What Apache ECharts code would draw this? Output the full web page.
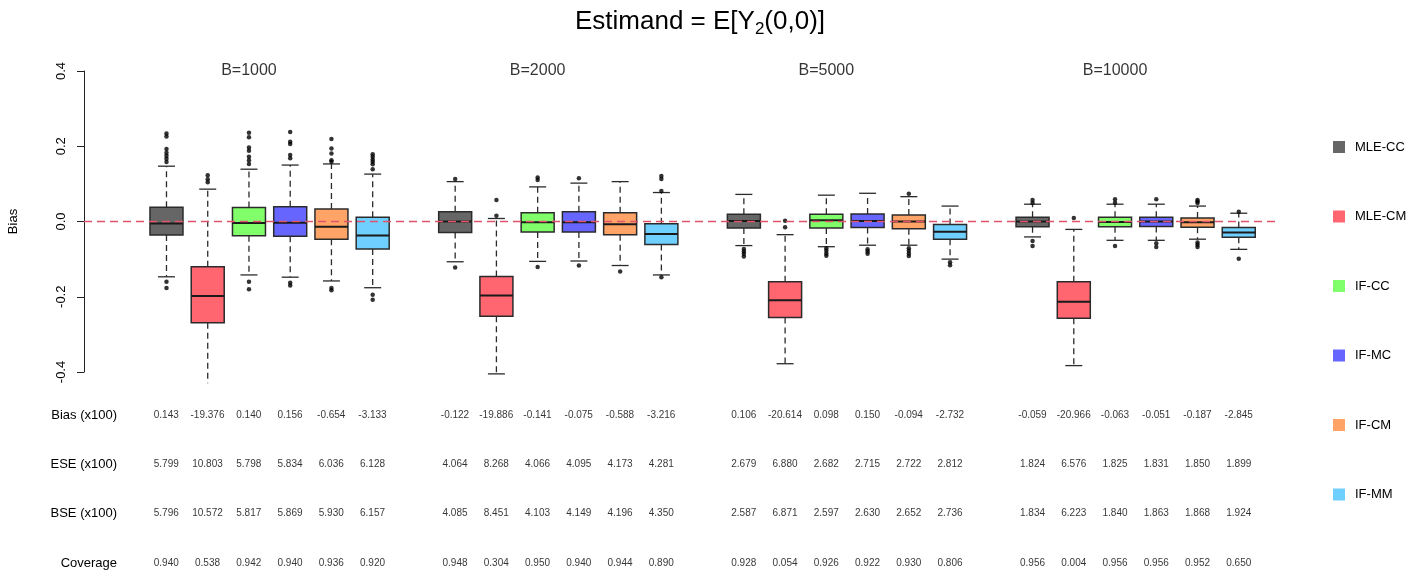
<!DOCTYPE html>
<html><head><meta charset="utf-8">
<script src="https://cdn.jsdelivr.net/npm/echarts@6.0.0/dist/echarts.min.js"></script>
<style>html,body{margin:0;padding:0;background:#fff}#c{width:1424px;height:575px}</style>
</head><body><div id="c"></div>
<script>
// ---------------- data ----------------
const methods = ['MLE-CC', 'MLE-CM', 'IF-CC', 'IF-MC', 'IF-CM', 'IF-MM'];
const colors = ['#666666', '#FF6670', '#80FF6A', '#6666FF', '#FFA366', '#6FCFFF'];
const groups = ['B=1000', 'B=2000', 'B=5000', 'B=10000'];
const rowNames = ['Bias (x100)', 'ESE (x100)', 'BSE (x100)', 'Coverage'];
const yTicks = [-0.4, -0.2, 0.0, 0.2, 0.4];

// box stats per method: [lower whisker, Q1, median, Q3, upper whisker]
const box1000 = [
  [-0.147, -0.036, -0.005, 0.038, 0.147],
  [-0.460, -0.269, -0.198, -0.120, 0.086],
  [-0.142, -0.038, -0.004, 0.037, 0.139],
  [-0.148, -0.039, -0.003, 0.039, 0.150],
  [-0.158, -0.047, -0.014, 0.033, 0.153],
  [-0.176, -0.073, -0.037, 0.011, 0.126]
];
const box2000 = [
  [-0.107, -0.029, 0.000, 0.026, 0.106],
  [-0.405, -0.252, -0.197, -0.146, 0.008],
  [-0.106, -0.028, -0.002, 0.023, 0.092],
  [-0.105, -0.028, -0.002, 0.026, 0.102],
  [-0.117, -0.035, -0.007, 0.023, 0.106],
  [-0.142, -0.061, -0.033, -0.006, 0.077]
];
const box5000 = [
  [-0.064, -0.017, 0.001, 0.019, 0.072],
  [-0.378, -0.255, -0.209, -0.160, -0.035],
  [-0.067, -0.017, 0.003, 0.019, 0.070],
  [-0.063, -0.016, 0.001, 0.020, 0.075],
  [-0.063, -0.019, 0.000, 0.017, 0.066],
  [-0.100, -0.047, -0.027, -0.008, 0.041]
];
const box10000 = [
  [-0.041, -0.014, 0.000, 0.011, 0.046],
  [-0.383, -0.257, -0.213, -0.160, -0.021],
  [-0.050, -0.014, -0.001, 0.011, 0.046],
  [-0.050, -0.013, 0.000, 0.011, 0.046],
  [-0.047, -0.015, -0.002, 0.009, 0.041],
  [-0.074, -0.042, -0.029, -0.016, 0.022]
];

// outliers per method
const out1000 = [
  [0.234, 0.226, 0.193, 0.183, 0.175, 0.167, 0.158, -0.160, -0.177],
  [0.123, 0.112, 0.104],
  [0.236, 0.224, 0.197, 0.188, 0.172, 0.163, 0.153, -0.160, -0.180],
  [0.238, 0.212, 0.206, 0.177, 0.168, -0.163, -0.170],
  [0.219, 0.194, 0.181, 0.163, 0.159, -0.177, -0.183],
  [0.179, 0.172, 0.165, 0.159, 0.152, 0.139, -0.195, -0.208]
];
const out2000 = [
  [0.113, -0.122],
  [0.057, 0.015, -0.417],
  [0.117, 0.110, -0.121],
  [0.115, -0.117],
  [-0.133],
  [0.121, 0.113, 0.081, -0.148]
];
const out5000 = [
  [-0.073, -0.080, -0.086, -0.093],
  [0.002, -0.015],
  [-0.071, -0.078, -0.085, -0.091],
  [-0.074, -0.080, -0.086],
  [0.074, -0.071, -0.078, -0.085, -0.092],
  [-0.108, -0.116]
];
const out10000 = [
  [0.057, 0.049, -0.052, -0.065],
  [0.009],
  [0.059, 0.050, -0.065],
  [0.059, -0.058, -0.068],
  [0.057, 0.053, 0.049, -0.056, -0.062, -0.068],
  [0.026, -0.099]
];

// summary table
const bias1000 = [0.143, -19.376, 0.140, 0.156, -0.654, -3.133];
const ese1000 = [5.799, 10.803, 5.798, 5.834, 6.036, 6.128];
const bse1000 = [5.796, 10.572, 5.817, 5.869, 5.930, 6.157];
const cov1000 = [0.940, 0.538, 0.942, 0.940, 0.936, 0.920];
const bias2000 = [-0.122, -19.886, -0.141, -0.075, -0.588, -3.216];
const ese2000 = [4.064, 8.268, 4.066, 4.095, 4.173, 4.281];
const bse2000 = [4.085, 8.451, 4.103, 4.149, 4.196, 4.350];
const cov2000 = [0.948, 0.304, 0.950, 0.940, 0.944, 0.890];
const bias5000 = [0.106, -20.614, 0.098, 0.150, -0.094, -2.732];
const ese5000 = [2.679, 6.880, 2.682, 2.715, 2.722, 2.812];
const bse5000 = [2.587, 6.871, 2.597, 2.630, 2.652, 2.736];
const cov5000 = [0.928, 0.054, 0.926, 0.922, 0.930, 0.806];
const bias10000 = [-0.059, -20.966, -0.063, -0.051, -0.187, -2.845];
const ese10000 = [1.824, 6.576, 1.825, 1.831, 1.850, 1.899];
const bse10000 = [1.834, 6.223, 1.840, 1.863, 1.868, 1.924];
const cov10000 = [0.956, 0.004, 0.956, 0.956, 0.952, 0.650];

// ---------------- build ----------------
const boxes = [box1000, box2000, box5000, box10000];
const outs = [out1000, out2000, out5000, out10000];
const tables = [
  [bias1000, ese1000, bse1000, cov1000],
  [bias2000, ese2000, bse2000, cov2000],
  [bias5000, ese5000, bse5000, cov5000],
  [bias10000, ese10000, bse10000, cov10000]
];
const pos = (g, m) => g * 7 + m + 1;   // box position on x axis
const FLOOR = -0.43, CEIL = 0.43;       // plot region limits (clipping)
const FONT = '"Liberation Sans", Arial, Helvetica, sans-serif';

function renderBox(params, api) {
  const x = api.value(0);
  const lo = api.value(1), q1 = api.value(2), md = api.value(3), q3 = api.value(4), hi = api.value(5);
  const cx = api.coord([x, md])[0];
  const Y = v => api.coord([x, v])[1];
  const hw = 16.5, cw = 8.5, stroke = '#2b2b2b';
  const loC = Math.max(lo, FLOOR), hiC = Math.min(hi, CEIL);
  const dash = { stroke: stroke, lineWidth: 1.3, lineDash: [6, 4] };
  const solid = { stroke: stroke, lineWidth: 1.3 };
  const ch = [];
  ch.push({ type: 'line', shape: { x1: cx, y1: Y(q3), x2: cx, y2: Y(hiC) }, style: dash });
  ch.push({ type: 'line', shape: { x1: cx, y1: Y(q1), x2: cx, y2: Y(loC) }, style: dash });
  if (hi <= CEIL) ch.push({ type: 'line', shape: { x1: cx - cw, y1: Y(hi), x2: cx + cw, y2: Y(hi) }, style: solid });
  if (lo >= FLOOR) ch.push({ type: 'line', shape: { x1: cx - cw, y1: Y(lo), x2: cx + cw, y2: Y(lo) }, style: solid });
  ch.push({ type: 'rect', shape: { x: cx - hw, y: Y(q3), width: 2 * hw, height: Y(q1) - Y(q3) },
            style: { fill: api.visual('color'), stroke: stroke, lineWidth: 1.5 } });
  ch.push({ type: 'line', shape: { x1: cx - hw, y1: Y(md), x2: cx + hw, y2: Y(md) }, style: { stroke: '#1a1a1a', lineWidth: 2 } });
  return { type: 'group', children: ch };
}

const series = [];
methods.forEach((name, m) => {
  series.push({
    name: name, type: 'custom', xAxisIndex: 0, yAxisIndex: 0, clip: false,
    itemStyle: { color: colors[m] },
    encode: { x: 0, y: [1, 2, 3, 4, 5] },
    renderItem: renderBox,
    data: groups.map((g, gi) => [pos(gi, m)].concat(boxes[gi][m])),
    silent: true
  });
});

const outlierData = [];
outs.forEach((go, gi) => go.forEach((arr, m) => arr.forEach(v => outlierData.push([pos(gi, m), v]))));
series.push({
  name: 'outliers', type: 'scatter', xAxisIndex: 0, yAxisIndex: 0,
  symbol: 'circle', symbolSize: 4.5, itemStyle: { color: '#000' }, silent: true,
  data: outlierData,
  markLine: {
    silent: true, symbol: ['none', 'none'], label: { show: false },
    lineStyle: { color: '#DF536B', width: 1.3, type: [8, 5] },
    data: [{ yAxis: 0 }], z: 20
  }
});

series.push({
  name: 'panels', type: 'scatter', xAxisIndex: 0, yAxisIndex: 0,
  symbolSize: 0, silent: true,
  data: groups.map((g, gi) => ({ value: [pos(gi, 2), 0.4], name: g })),
  label: { show: true, position: 'inside', formatter: p => p.name, fontSize: 16, color: '#000', fontFamily: FONT }
});

const tableData = [];
tables.forEach((rows, gi) => rows.forEach((vals, r) => vals.forEach((v, m) =>
  tableData.push({ value: [pos(gi, m), r], name: v.toFixed(3) }))));
series.push({
  name: 'table', type: 'scatter', xAxisIndex: 1, yAxisIndex: 1,
  symbolSize: 0, silent: true, data: tableData,
  label: { show: true, position: 'inside', formatter: p => p.name, fontSize: 10, color: '#000', fontFamily: FONT }
});

const option = {
  animation: false,
  backgroundColor: '#fff',
  textStyle: { fontFamily: FONT },
  title: {
    text: '{t|Estimand = E[Y}{s|2}{t|(0,0)]}',
    left: 575, top: 6, padding: 0,
    textStyle: { rich: {
      t: { fontSize: 26, lineHeight: 32, color: '#000', fontWeight: 'normal', fontFamily: FONT },
      s: { fontSize: 17, lineHeight: 17, verticalAlign: 'bottom', color: '#000', fontWeight: 'normal', fontFamily: FONT }
    } }
  },
  legend: {
    data: methods, orient: 'vertical', left: 1333, top: 140, padding: 0,
    icon: 'rect', itemWidth: 12, itemHeight: 12, itemGap: 55.5,
    textStyle: { fontSize: 13, color: '#000', lineHeight: 14, padding: [0, 0, 0, 5], fontFamily: FONT },
    selectedMode: false
  },
  grid: [
    { left: 84, right: 144, top: 71, height: 301, containLabel: false, outerBoundsMode: 'none' },
    { left: 125, right: 144, top: 415, height: 148, containLabel: false, outerBoundsMode: 'none' }
  ],
  xAxis: [
    { gridIndex: 0, type: 'value', min: -1, max: 28, show: false },
    { gridIndex: 1, type: 'value', min: 0, max: 28, show: false }
  ],
  yAxis: [
    {
      gridIndex: 0, type: 'value', min: -0.4, max: 0.4, interval: 0.2,
      name: 'Bias', nameLocation: 'middle', nameGap: 64, nameRotate: 90,
      nameTextStyle: { fontSize: 13, color: '#000' },
      axisLine: { show: true, onZero: false, lineStyle: { color: '#222', width: 1 } },
      axisTick: { show: true, length: 7, lineStyle: { color: '#222' } },
      axisLabel: { rotate: 90, margin: 16, fontSize: 13, color: '#000', formatter: v => {
        const t = yTicks.find(k => Math.abs(k - v) < 1e-9); return (t === undefined ? v : t).toFixed(1); } },
      splitLine: { show: false }
    },
    {
      gridIndex: 1, type: 'value', min: 0, max: 3, interval: 1, inverse: true,
      axisLine: { show: false, onZero: false }, axisTick: { show: false }, splitLine: { show: false },
      axisLabel: { margin: 8, fontSize: 13, color: '#000', formatter: v => rowNames[Math.round(v)] }
    }
  ],
  series: series
};

const chart = echarts.init(document.getElementById('c'));
chart.setOption(option);
</script>
</body></html>
